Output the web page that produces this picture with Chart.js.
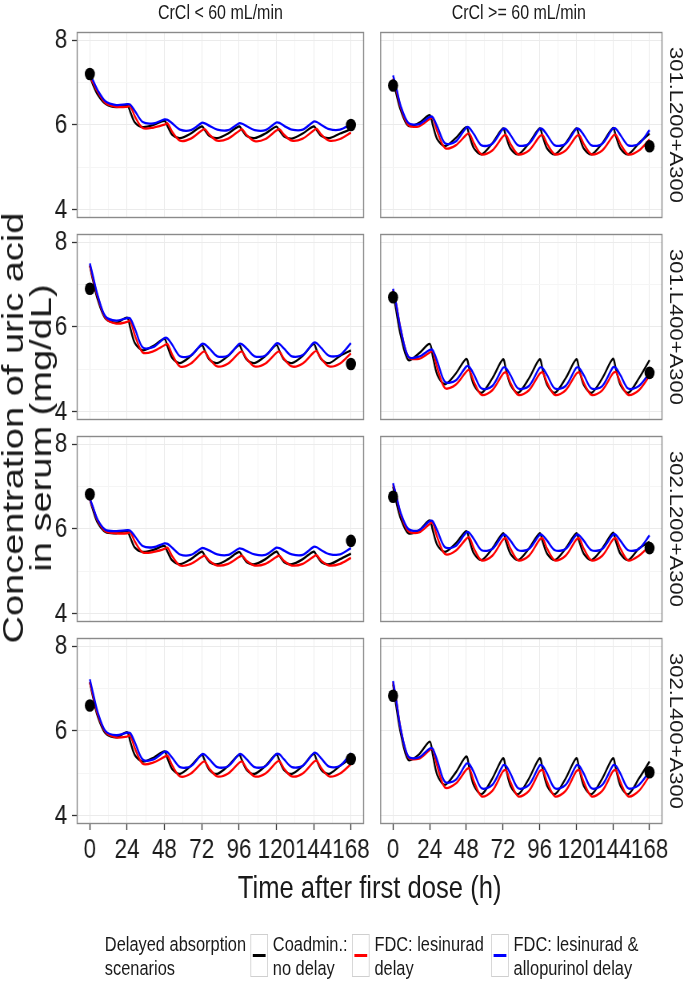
<!DOCTYPE html>
<html>
<head>
<meta charset="utf-8">
<script src="https://cdn.jsdelivr.net/npm/chart.js@4.4.0/dist/chart.umd.min.js"></script>
<style>
  html, body { margin: 0; padding: 0; background: #fff; overflow: hidden; width: 685px; height: 982px; }
  #page { position: absolute; left: 0; top: 0; width: 856px; height: 982px;
          transform: scaleX(0.8); transform-origin: 0 0;
          font-family: "Liberation Sans", Arial, sans-serif; color: #1a1a1a; }
  #page canvas { position: absolute; }
  .lbl { position: absolute; white-space: nowrap; transform: translate(-50%, -50%); }
  .strip { font-size: 20px; }
  .rstrip { font-size: 22px; transform: translate(-50%, -50%) rotate(90deg); }
  .ytitle { font-size: 38px; line-height: 35px; text-align: center; transform: translate(-50%, -50%) rotate(-90deg); }
  .xtitle { font-size: 32px; }
  .leg { position: absolute; font-size: 20.5px; line-height: 24px; white-space: nowrap; }
  .key { position: absolute; width: 22px; height: 43px; box-sizing: border-box; border: 1.5px solid #cfcfcf; background: #fff; }
  .key i { position: absolute; left: 2px; right: 2px; top: 19px; height: 2.5px; }
</style>
</head>
<body>
<div id="page"></div>
<script>
// time grid (h) shared by every simulated curve
const hours = [0, 2, 5, 10, 17, 24, 26, 29, 34, 41, 48, 50, 53, 58, 65, 72, 74, 77, 82, 89,
  96, 98, 101, 106, 113, 120, 122, 125, 130, 137, 144, 146, 149, 154, 161, 168];
const obsHours = [0, 168];

const columns = ['CrCl < 60 mL/min', 'CrCl >= 60 mL/min'];
const rows = ['301.L200+A300', '301.L400+A300', '302.L200+A300', '302.L400+A300'];
const xTicks = [0, 24, 48, 72, 96, 120, 144, 168];
const yTicks = [4, 6, 8];
const scenarios = ['Coadmin.:\nno delay', 'FDC: lesinurad\ndelay', 'FDC: lesinurad &\nallopurinol delay'];
const scenarioColors = ['#000000', '#ff0000', '#0000ff'];

// 301.L200+A300, CrCl < 60
const low301L200Coadmin = [7.15, 6.95, 6.72, 6.5, 6.42, 6.47, 6.31, 6.06, 5.95, 6.0, 6.1, 5.97, 5.77, 5.69, 5.8, 5.97, 5.88, 5.74, 5.69, 5.8, 5.97, 5.88, 5.74, 5.69, 5.8, 5.96, 5.87, 5.73, 5.68, 5.8, 5.97, 5.88, 5.74, 5.69, 5.8, 5.9];
const low301L200Les = [7.15, 7.0, 6.78, 6.52, 6.43, 6.43, 6.45, 6.2, 5.93, 5.94, 6.01, 6.04, 5.84, 5.63, 5.68, 5.87, 5.9, 5.77, 5.63, 5.68, 5.86, 5.9, 5.76, 5.62, 5.67, 5.87, 5.9, 5.77, 5.63, 5.68, 5.87, 5.91, 5.77, 5.63, 5.67, 5.82];
const low301L200LesAllo = [7.2, 7.05, 6.82, 6.56, 6.47, 6.49, 6.48, 6.33, 6.07, 6.04, 6.13, 6.12, 6.04, 5.89, 5.88, 6.05, 6.04, 5.98, 5.89, 5.88, 6.04, 6.03, 5.97, 5.88, 5.88, 6.06, 6.05, 5.98, 5.89, 5.89, 6.08, 6.07, 6.0, 5.9, 5.89, 6.02];
const low301L200Obs = [7.2, 6.0];

// 301.L200+A300, CrCl >= 60
const high301L200Coadmin = [7.05, 6.75, 6.35, 5.98, 6.05, 6.23, 6.0, 5.66, 5.5, 5.69, 5.95, 5.75, 5.45, 5.31, 5.57, 5.92, 5.73, 5.44, 5.31, 5.57, 5.92, 5.73, 5.44, 5.31, 5.57, 5.92, 5.73, 5.44, 5.31, 5.57, 5.93, 5.73, 5.44, 5.31, 5.57, 5.8];
const high301L200Les = [7.1, 6.85, 6.42, 6.0, 5.97, 6.14, 6.17, 5.84, 5.46, 5.52, 5.77, 5.8, 5.57, 5.31, 5.4, 5.73, 5.76, 5.55, 5.31, 5.4, 5.73, 5.76, 5.55, 5.31, 5.4, 5.73, 5.76, 5.55, 5.31, 5.4, 5.74, 5.77, 5.55, 5.31, 5.4, 5.66];
const high301L200LesAllo = [7.17, 6.9, 6.45, 6.05, 6.02, 6.19, 6.18, 5.96, 5.57, 5.61, 5.94, 5.93, 5.78, 5.52, 5.56, 5.91, 5.9, 5.76, 5.52, 5.56, 5.91, 5.9, 5.76, 5.52, 5.56, 5.91, 5.9, 5.76, 5.52, 5.56, 5.92, 5.91, 5.76, 5.52, 5.56, 5.88];
const high301L200Obs = [6.93, 5.5];

// 301.L400+A300, CrCl < 60
const low301L400Coadmin = [7.45, 7.1, 6.65, 6.2, 6.1, 6.22, 5.98, 5.62, 5.45, 5.56, 5.72, 5.54, 5.27, 5.15, 5.32, 5.57, 5.44, 5.23, 5.15, 5.32, 5.57, 5.44, 5.23, 5.15, 5.32, 5.58, 5.44, 5.23, 5.15, 5.32, 5.6, 5.45, 5.24, 5.15, 5.32, 5.45];
const low301L400Les = [7.45, 7.15, 6.72, 6.22, 6.08, 6.12, 6.15, 5.8, 5.4, 5.43, 5.57, 5.6, 5.35, 5.07, 5.14, 5.39, 5.42, 5.25, 5.07, 5.14, 5.39, 5.42, 5.25, 5.07, 5.14, 5.39, 5.42, 5.25, 5.07, 5.14, 5.4, 5.43, 5.25, 5.07, 5.14, 5.38];
const low301L400LesAllo = [7.5, 7.2, 6.75, 6.25, 6.15, 6.21, 6.2, 5.96, 5.52, 5.53, 5.74, 5.73, 5.58, 5.31, 5.33, 5.6, 5.59, 5.49, 5.31, 5.33, 5.6, 5.59, 5.49, 5.31, 5.33, 5.61, 5.6, 5.49, 5.31, 5.34, 5.63, 5.62, 5.5, 5.32, 5.34, 5.62];
const low301L400Obs = [6.9, 5.13];

// 301.L400+A300, CrCl >= 60
const high301L400Coadmin = [6.85, 6.4, 5.8, 5.22, 5.38, 5.6, 5.31, 4.87, 4.65, 4.9, 5.25, 5.0, 4.63, 4.45, 4.79, 5.24, 4.99, 4.63, 4.45, 4.79, 5.24, 4.99, 4.63, 4.45, 4.79, 5.24, 4.99, 4.63, 4.45, 4.79, 5.25, 5.0, 4.63, 4.45, 4.79, 5.22];
const high301L400Les = [6.88, 6.55, 5.95, 5.3, 5.25, 5.4, 5.43, 5.03, 4.56, 4.64, 4.95, 4.98, 4.71, 4.4, 4.51, 4.9, 4.93, 4.68, 4.4, 4.51, 4.9, 4.93, 4.68, 4.4, 4.51, 4.9, 4.93, 4.68, 4.4, 4.51, 4.91, 4.94, 4.68, 4.4, 4.51, 4.85];
const high301L400LesAllo = [6.9, 6.55, 5.95, 5.3, 5.3, 5.46, 5.45, 5.19, 4.71, 4.74, 5.07, 5.06, 4.88, 4.55, 4.61, 5.04, 5.03, 4.86, 4.55, 4.61, 5.04, 5.03, 4.86, 4.55, 4.61, 5.04, 5.03, 4.86, 4.55, 4.61, 5.05, 5.04, 4.86, 4.55, 4.61, 4.92];
const high301L400Obs = [6.7, 4.92];

// 302.L200+A300, CrCl < 60
const low302L200Coadmin = [6.7, 6.45, 6.15, 5.93, 5.9, 5.95, 5.8, 5.56, 5.46, 5.51, 5.6, 5.46, 5.26, 5.17, 5.29, 5.47, 5.37, 5.22, 5.17, 5.29, 5.46, 5.37, 5.22, 5.17, 5.29, 5.47, 5.37, 5.22, 5.17, 5.29, 5.47, 5.37, 5.22, 5.17, 5.29, 5.42];
const low302L200Les = [6.7, 6.5, 6.2, 5.95, 5.9, 5.9, 5.93, 5.7, 5.45, 5.46, 5.53, 5.56, 5.36, 5.14, 5.18, 5.34, 5.37, 5.25, 5.14, 5.18, 5.34, 5.37, 5.25, 5.14, 5.18, 5.34, 5.37, 5.25, 5.14, 5.18, 5.35, 5.38, 5.25, 5.14, 5.18, 5.32];
const low302L200LesAllo = [6.72, 6.52, 6.22, 5.98, 5.95, 5.97, 5.96, 5.83, 5.6, 5.57, 5.66, 5.65, 5.56, 5.4, 5.39, 5.55, 5.54, 5.49, 5.4, 5.39, 5.54, 5.53, 5.48, 5.4, 5.39, 5.56, 5.55, 5.49, 5.4, 5.39, 5.58, 5.57, 5.5, 5.41, 5.4, 5.55];
const low302L200Obs = [6.82, 5.72];

// 302.L200+A300, CrCl >= 60
const high302L200Coadmin = [7.0, 6.65, 6.25, 5.9, 5.97, 6.2, 5.97, 5.62, 5.46, 5.66, 5.95, 5.74, 5.42, 5.27, 5.54, 5.9, 5.7, 5.41, 5.27, 5.54, 5.9, 5.7, 5.41, 5.27, 5.54, 5.9, 5.7, 5.41, 5.27, 5.54, 5.91, 5.7, 5.41, 5.27, 5.54, 5.7];
const high302L200Les = [7.05, 6.8, 6.35, 5.95, 5.92, 6.12, 6.15, 5.8, 5.41, 5.49, 5.77, 5.8, 5.54, 5.26, 5.37, 5.75, 5.78, 5.53, 5.26, 5.37, 5.75, 5.78, 5.53, 5.26, 5.37, 5.75, 5.78, 5.53, 5.26, 5.37, 5.75, 5.78, 5.53, 5.26, 5.37, 5.6];
const high302L200LesAllo = [7.08, 6.8, 6.38, 6.0, 5.97, 6.19, 6.18, 5.96, 5.57, 5.6, 5.92, 5.91, 5.76, 5.5, 5.53, 5.86, 5.85, 5.72, 5.5, 5.53, 5.86, 5.85, 5.72, 5.5, 5.53, 5.86, 5.85, 5.72, 5.5, 5.53, 5.87, 5.86, 5.72, 5.5, 5.53, 5.85];
const high302L200Obs = [6.76, 5.55];

// 302.L400+A300, CrCl < 60
const low302L400Coadmin = [7.15, 6.8, 6.35, 5.95, 5.85, 5.97, 5.75, 5.43, 5.28, 5.37, 5.52, 5.35, 5.1, 4.99, 5.18, 5.44, 5.3, 5.08, 4.99, 5.18, 5.44, 5.3, 5.08, 4.99, 5.18, 5.45, 5.3, 5.08, 4.99, 5.18, 5.46, 5.31, 5.08, 4.99, 5.18, 5.35];
const low302L400Les = [7.15, 6.85, 6.4, 5.98, 5.85, 5.87, 5.9, 5.59, 5.23, 5.26, 5.39, 5.42, 5.19, 4.93, 5.0, 5.25, 5.28, 5.11, 4.93, 5.0, 5.25, 5.28, 5.11, 4.93, 5.0, 5.26, 5.29, 5.11, 4.93, 5.0, 5.27, 5.3, 5.12, 4.93, 5.0, 5.22];
const low302L400LesAllo = [7.22, 6.9, 6.45, 6.0, 5.9, 5.96, 5.95, 5.73, 5.33, 5.33, 5.51, 5.5, 5.37, 5.15, 5.17, 5.45, 5.44, 5.33, 5.15, 5.17, 5.45, 5.44, 5.33, 5.15, 5.17, 5.46, 5.45, 5.33, 5.15, 5.18, 5.48, 5.47, 5.35, 5.16, 5.18, 5.48];
const low302L400Obs = [6.6, 5.34];

// 302.L400+A300, CrCl >= 60
const high302L400Coadmin = [7.1, 6.6, 5.95, 5.32, 5.45, 5.75, 5.44, 4.96, 4.73, 5.02, 5.4, 5.12, 4.71, 4.51, 4.88, 5.36, 5.1, 4.7, 4.51, 4.88, 5.36, 5.1, 4.7, 4.51, 4.88, 5.36, 5.1, 4.7, 4.51, 4.88, 5.36, 5.1, 4.7, 4.51, 4.88, 5.28];
const high302L400Les = [7.15, 6.75, 6.05, 5.38, 5.35, 5.55, 5.58, 5.16, 4.67, 4.76, 5.09, 5.12, 4.81, 4.46, 4.59, 5.05, 5.08, 4.79, 4.46, 4.59, 5.05, 5.08, 4.79, 4.46, 4.59, 5.05, 5.08, 4.79, 4.46, 4.59, 5.05, 5.08, 4.79, 4.46, 4.59, 4.95];
const high302L400LesAllo = [7.18, 6.75, 6.05, 5.4, 5.38, 5.59, 5.58, 5.3, 4.8, 4.85, 5.23, 5.22, 5.02, 4.65, 4.73, 5.19, 5.18, 4.99, 4.65, 4.73, 5.19, 5.18, 4.99, 4.65, 4.73, 5.19, 5.18, 4.99, 4.65, 4.73, 5.19, 5.18, 4.99, 4.65, 4.73, 5.05];
const high302L400Obs = [6.83, 5.03];

// [row][col] -> [coadmin, lesinurad delay, lesinurad+allopurinol delay, observed]
const panels = [
  [[low301L200Coadmin, low301L200Les, low301L200LesAllo, low301L200Obs], [high301L200Coadmin, high301L200Les, high301L200LesAllo, high301L200Obs]],
  [[low301L400Coadmin, low301L400Les, low301L400LesAllo, low301L400Obs], [high301L400Coadmin, high301L400Les, high301L400LesAllo, high301L400Obs]],
  [[low302L200Coadmin, low302L200Les, low302L200LesAllo, low302L200Obs], [high302L200Coadmin, high302L200Les, high302L200LesAllo, high302L200Obs]],
  [[low302L400Coadmin, low302L400Les, low302L400LesAllo, low302L400Obs], [high302L400Coadmin, high302L400Les, high302L400LesAllo, high302L400Obs]]
];

// layout (unscaled px; the page is squeezed to 0.8 width like the original figure)
const FONT = "'Liberation Sans', Arial, sans-serif";
const colLeft = [96, 469];
const rowTop = [32, 234, 436, 638];
const panelW = 359, panelH = 186;
const pad = 12;
const page = document.getElementById('page');

const panelBorder = {
  id: 'panelBorder',
  afterDraw(chart) {
    const a = chart.chartArea, c = chart.ctx;
    c.save();
    c.strokeStyle = '#8a8a8a';
    c.lineWidth = 1.4;
    c.strokeRect(a.left + 0.5, a.top + 0.5, a.right - a.left - 1, a.bottom - a.top - 1);
    c.restore();
  }
};

function addLabel(cls, text, x, y) {
  const d = document.createElement('div');
  d.className = 'lbl ' + cls;
  d.innerHTML = text;
  d.style.left = x + 'px';
  d.style.top = y + 'px';
  page.appendChild(d);
}

function drawPanel(r, c) {
  const series = panels[r][c];
  const axisW = c === 0 ? 96 : 0;
  const axisH = r === 3 ? 48 : 0;
  const cv = document.createElement('canvas');
  cv.width = axisW + panelW + pad;
  cv.height = pad + panelH + axisH + pad;
  cv.style.left = (colLeft[c] - axisW) + 'px';
  cv.style.top = (rowTop[r] - pad) + 'px';
  page.appendChild(cv);

  const lines = [2, 1, 0].map(i => ({
    type: 'line',
    data: hours.map((h, k) => ({ x: h, y: series[i][k] })),
    borderColor: scenarioColors[i],
    borderWidth: 2.3,
    pointRadius: 0,
    tension: 0.3,
    fill: false
  }));
  const obs = {
    type: 'scatter',
    data: obsHours.map((h, k) => ({ x: h, y: series[3][k] })),
    backgroundColor: '#000',
    borderColor: '#000',
    pointRadius: 6.3,
    pointBorderWidth: 0
  };

  new Chart(cv, {
    type: 'line',
    data: { datasets: [obs, ...lines] },
    options: {
      responsive: false,
      animation: false,
      devicePixelRatio: 1,
      events: [],
      layout: { padding: { top: pad, bottom: pad, left: 0, right: pad } },
      plugins: { legend: { display: false }, tooltip: { enabled: false } },
      scales: {
        x: {
          type: 'linear', min: -8.4, max: 176.4,
          afterFit: s => { s.height = axisH; s.paddingLeft = 0; s.paddingRight = 0; },
          border: { display: false },
          grid: {
            color: ctx => (ctx.tick && ctx.tick.value % 24 === 0) ? '#ebebeb' : '#f5f5f5',
            lineWidth: 1,
            drawTicks: r === 3,
            tickLength: 6,
            tickWidth: 1.3,
            tickColor: ctx => xTicks.includes(ctx.tick && ctx.tick.value) ? '#333' : 'rgba(0,0,0,0)'
          },
          ticks: {
            display: r === 3, stepSize: 12, includeBounds: false, autoSkip: false, maxRotation: 0,
            padding: 3, color: '#1a1a1a', font: { family: FONT, size: 28 },
            callback: v => xTicks.includes(v) ? String(v) : ''
          }
        },
        y: {
          type: 'linear', min: 3.81, max: 8.19,
          afterFit: s => { s.width = axisW; s.paddingTop = 0; s.paddingBottom = 0; },
          border: { display: false },
          grid: {
            color: ctx => (ctx.tick && ctx.tick.value % 2 === 0) ? '#ebebeb' : '#f5f5f5',
            lineWidth: 1,
            drawTicks: c === 0,
            tickLength: 6,
            tickWidth: 1.3,
            tickColor: ctx => yTicks.includes(ctx.tick && ctx.tick.value) ? '#333' : 'rgba(0,0,0,0)'
          },
          ticks: {
            display: c === 0, stepSize: 1, includeBounds: false,
            padding: 6, color: '#1a1a1a', font: { family: FONT, size: 28 },
            callback: v => yTicks.includes(v) ? String(v) : ''
          }
        }
      }
    },
    plugins: [panelBorder]
  });
}

for (let r = 0; r < rows.length; r++) {
  for (let c = 0; c < columns.length; c++) drawPanel(r, c);
}

// facet strips
columns.forEach((t, c) => addLabel('strip', t.replace('<', '&lt;').replace('>', '&gt;'), colLeft[c] + panelW / 2, 12));
rows.forEach((t, r) => addLabel('rstrip', t, 845, rowTop[r] + panelH / 2));

// axis titles
addLabel('ytitle', 'Concentration of uric acid<br>in serum (mg/dL)', 34, 428);
addLabel('xtitle', 'Time after first dose (h)', 462, 887);

// legend
function legendText(html, x, y) {
  const d = document.createElement('div');
  d.className = 'leg';
  d.innerHTML = html;
  d.style.left = x + 'px';
  d.style.top = y + 'px';
  page.appendChild(d);
}
legendText('Delayed absorption<br>scenarios', 131, 932);
const keyX = [313, 440, 614];
scenarios.forEach((s, i) => {
  const k = document.createElement('div');
  k.className = 'key';
  k.style.left = keyX[i] + 'px';
  k.style.top = '934px';
  const ln = document.createElement('i');
  ln.style.background = scenarioColors[i];
  k.appendChild(ln);
  page.appendChild(k);
  legendText(s.replace('&', '&amp;').replace('\n', '<br>'), keyX[i] + 28, 932);
});
</script>
</body>
</html>
